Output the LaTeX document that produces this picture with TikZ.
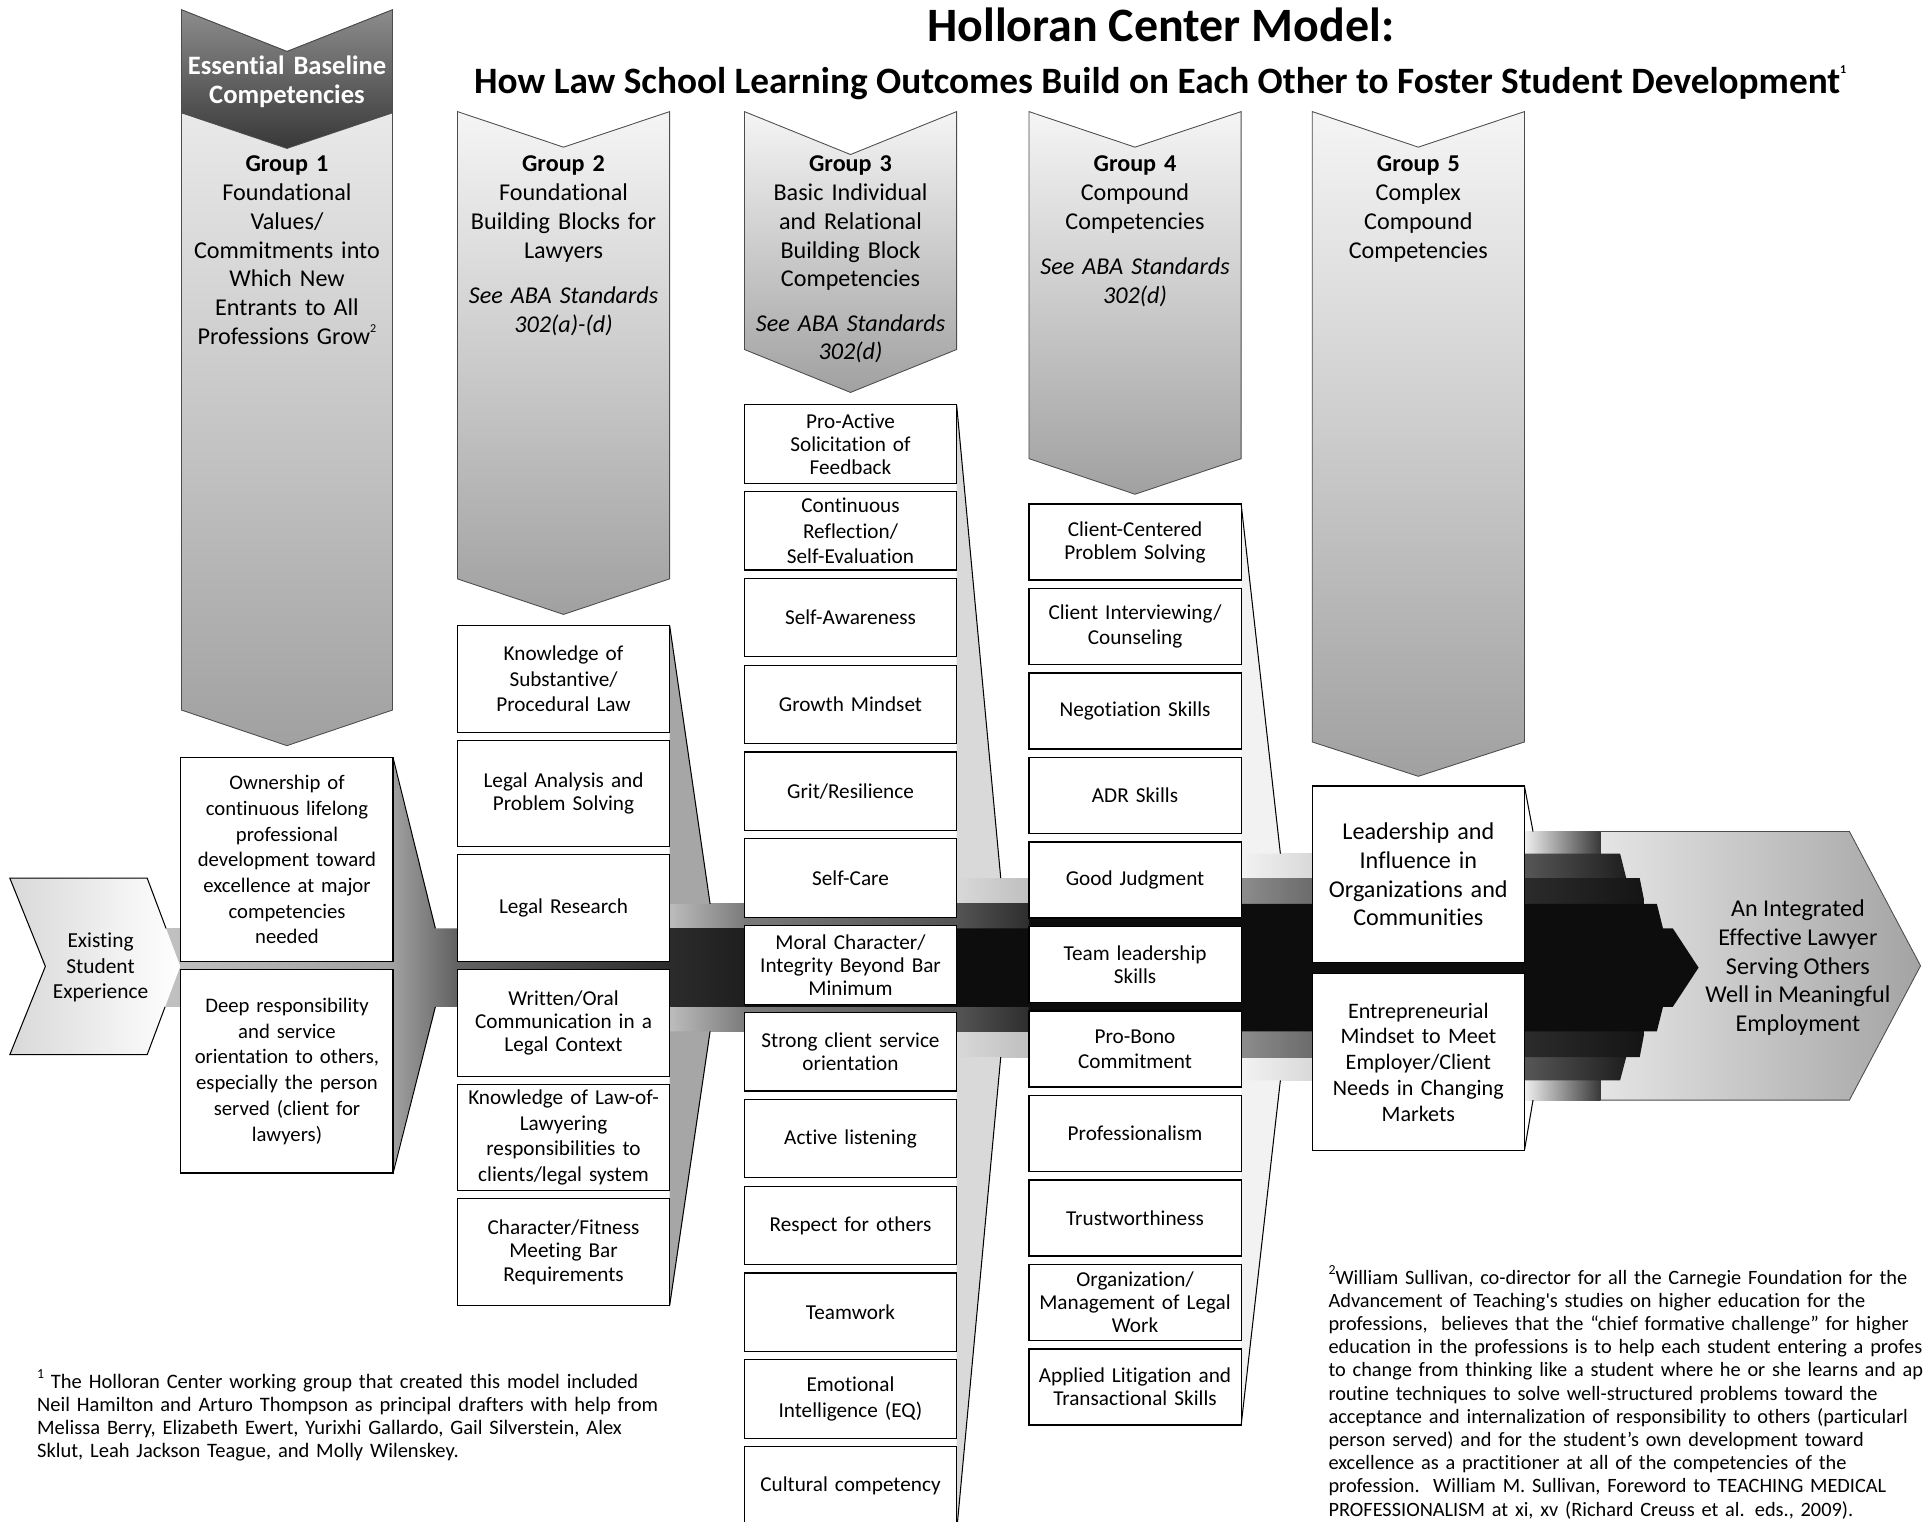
\documentclass[tikz,border=0pt]{standalone}
\usepackage{fontspec}
\setmainfont{Carlito}[Ligatures=NoCommon]
\usetikzlibrary{positioning}

\begin{document}
\begin{tikzpicture}[x=0.025cm,y=-0.025cm,
    box/.style={draw,fill=white,line width=0.7pt,minimum width=4.325cm,text width=4.1cm,align=center,inner sep=0pt,outer sep=0pt},
    boxone/.style={box,minimum height=4.15cm,font=\fontsize{12}{14.9}\selectfont},
    boxtwo/.style={box,minimum height=2.175cm,font=\fontsize{12.3}{13.5}\selectfont},
    boxthree/.style={box,minimum height=1.6cm,font=\fontsize{12.3}{13.3}\selectfont},
    boxfour/.style={box,minimum height=1.55cm,font=\fontsize{12.3}{13.3}\selectfont},
    boxfive/.style={box,minimum height=3.6cm,font=\fontsize{14}{16.6}\selectfont},
    chev/.style={draw=black!70,line width=0.5pt,top color=black!4,bottom color=black!37},
    head/.style={anchor=base,text width=4.3cm,align=center,inner sep=0pt,font=\fontsize{14}{16.7}\selectfont},
    note/.style={anchor=base west,text width=13.5cm,align=left,inner sep=0pt,font=\fontsize{11.9}{13.45}\selectfont},
    funnel/.style={draw=black,line width=0.6pt}
]
    \useasboundingbox (0,0) rectangle (1568,1241);
    \clip (0,0) rectangle (1568,1241);

    \shade[left color=black!5,right color=black!36,draw=black!70,line width=0.5pt] (1250,678) -- (1508,678) -- (1566,787.5) -- (1508,897) -- (1250,897) -- cycle;

    \shade[left color=black!6,middle color=black!30,right color=black!78] (1243,678) rectangle (1305,897);
    \shade[left color=black!5,right color=black!15] (1012,696) rectangle (1070,881);
    \shade[left color=black!66,right color=black!88] (1243,696) -- (1321,696) -- (1326,716) -- (1326,862) -- (1321,881) -- (1243,881) -- cycle;
    \shade[left color=black!15,right color=black!25] (780,716) rectangle (839,862);
    \shade[left color=black!45,right color=black!58] (1012,716) rectangle (1070,862);
    \shade[left color=black!83,right color=black!92] (1243,716) -- (1337,716) -- (1341,736) -- (1341,841) -- (1337,862) -- (1243,862) -- cycle;
    \shade[left color=black!26,right color=black!52] (546,737) rectangle (607,841);
    \shade[left color=black!52,right color=black!67] (607,737) rectangle (780,841);
    \shade[left color=black!67,right color=black!82] (780,737) rectangle (839,841);
    \fill[black!95] (839,737) -- (1351,737) -- (1356,757) -- (1356,821) -- (1351,841) -- (839,841) -- cycle;
    \shade[left color=black!23,right color=black!37] (116,757) rectangle (320,821);
    \shade[left color=black!37,right color=black!62] (320,618) -- (355,757) -- (373,757) -- (373,821) -- (355,821) -- (320,956) -- cycle;
    \shade[left color=black!61,right color=black!83] (373,757) rectangle (546,821);
    \shade[left color=black!83,right color=black!88] (546,757) rectangle (607,821);
    \fill[black!95] (607,757) -- (1364,757) -- (1385,789) -- (1364,821) -- (607,821) -- cycle;

    \fill[black!35] (546,510) -- (579,737) -- (546,737) -- cycle;
    \fill[black!35] (546,1066) -- (579,841) -- (546,841) -- cycle;
    \fill[black!15] (780,330) -- (816,716) -- (780,716) -- cycle;
    \fill[black!15] (780,1249) -- (816,862) -- (780,862) -- cycle;
    \fill[black!5] (1012,411) -- (1044,696) -- (1012,696) -- cycle;
    \fill[black!5] (1012,1162) -- (1044,881) -- (1012,881) -- cycle;

    \shade[left color=black!15,right color=white] (8,716) -- (120,716) -- (147,788) -- (120,860) -- (8,860) -- (37,788) -- cycle;
    \draw[line width=0.6pt] (135.4,757) -- (120,716) -- (8,716) -- (37,788) -- (8,860) -- (120,860) -- (134.6,821);

    \draw[chev] (148,8) -- (234,42) -- (320,8) -- (320,579) -- (234,608) -- (148,579) -- cycle;
    \draw[chev,top color=black!45,bottom color=black!78] (148,8) -- (234,42) -- (320,8) -- (320,92) -- (234,121) -- (148,92) -- cycle;
    \draw[chev] (373,91) -- (459.5,120) -- (546,91) -- (546,472) -- (459.5,501) -- (373,472) -- cycle;
    \draw[chev] (607,91) -- (693.5,126) -- (780,91) -- (780,285) -- (693.5,320) -- (607,285) -- cycle;
    \draw[chev] (839,91) -- (925.5,120) -- (1012,91) -- (1012,374) -- (925.5,403) -- (839,374) -- cycle;
    \draw[chev] (1070,91) -- (1156.5,120) -- (1243,91) -- (1243,605) -- (1156.5,633) -- (1070,605) -- cycle;

    \node[anchor=base,font=\fontsize{27.8}{33}\selectfont\bfseries] (title) at (946.5,34) {Holloran Center Model:};
    \node[anchor=base,font=\fontsize{21.6}{26}\selectfont\bfseries] (subtitle) at (946,76) {How Law School Learning Outcomes Build on Each Other to Foster Student Development\raisebox{1.1ex}{\fontsize{7}{8}\selectfont 1}};

    \node[head,text=white,font=\fontsize{15.4}{16.4}\selectfont\bfseries] (essential) at (234,61) {Essential Baseline\\Competencies};
    \node[head] (g1) at (234,140) {\textbf{Group 1}\\Foundational\\Values/\\Commitments into\\Which New\\Entrants to All\\Professions Grow\raisebox{1ex}{\fontsize{7}{8}\selectfont 2}};
    \node[head] (g2) at (459.5,140) {\textbf{Group 2}\\Foundational\\Building Blocks for\\Lawyers\\[9.6pt]\textit{See ABA Standards}\\\textit{302(a)-(d)}};
    \node[head] (g3) at (693.5,140) {\textbf{Group 3}\\Basic Individual\\and Relational\\Building Block\\Competencies\\[8.9pt]\textit{See ABA Standards}\\\textit{302(d)}};
    \node[head] (g4) at (925.5,140) {\textbf{Group 4}\\Compound\\Competencies\\[9.6pt]\textit{See ABA Standards}\\\textit{302(d)}};
    \node[head] (g5) at (1156.5,140) {\textbf{Group 5}\\Complex\\Compound\\Competencies};

    \node[align=center,font=\fontsize{12.4}{14.9}\selectfont] (exist) at (82,789) {Existing\\Student\\Experience};
    \node[align=center,font=\fontsize{14}{16.6}\selectfont] (goal) at (1466,789) {An Integrated\\Effective Lawyer\\Serving Others\\Well in Meaningful\\Employment};

    \node[boxone] (a1) at (234,701) {Ownership of\\continuous lifelong\\professional\\development toward\\excellence at major\\competencies\\needed};
    \node[boxone] (a2) at (234,873.5) {Deep responsibility\\and service\\orientation to others,\\especially the person\\served (client for\\lawyers)};

    \node[boxtwo] (b1) at (459.5,553.5) {Knowledge of\\[1.5pt]Substantive/\\[1.5pt]Procedural Law};
    \node[boxtwo] (b2) at (459.5,647) {Legal Analysis and\\Problem Solving};
    \node[boxtwo] (b3) at (459.5,740.5) {Legal Research};
    \node[boxtwo] (b4) at (459.5,834) {Written/Oral\\Communication in a\\Legal Context};
    \node[boxtwo] (b5) at (459.5,927.5) {Knowledge of Law-of-\\[1.5pt]Lawyering\\[1.5pt]responsibilities to\\[1.5pt]clients/legal system};
    \node[boxtwo] (b6) at (459.5,1021) {Character/Fitness\\Meeting Bar\\Requirements};

    \node[boxthree] (c1) at (693.5,362) {Pro-Active\\Solicitation of\\Feedback};
    \node[boxthree] (c2) at (693.5,432.8) {Continuous\\[1.5pt]Reflection/\\[1.5pt]Self-Evaluation};
    \node[boxthree] (c3) at (693.5,503.6) {Self-Awareness};
    \node[boxthree] (c4) at (693.5,574.4) {Growth Mindset};
    \node[boxthree] (c5) at (693.5,645.2) {Grit/Resilience};
    \node[boxthree] (c6) at (693.5,716) {Self-Care};
    \node[boxthree] (c7) at (693.5,786.8) {Moral Character/\\Integrity Beyond Bar\\Minimum};
    \node[boxthree] (c8) at (693.5,857.6) {Strong client service\\orientation};
    \node[boxthree] (c9) at (693.5,928.4) {Active listening};
    \node[boxthree] (c10) at (693.5,999.2) {Respect for others};
    \node[boxthree] (c11) at (693.5,1070) {Teamwork};
    \node[boxthree] (c12) at (693.5,1140.8) {Emotional\\[1.5pt]Intelligence (EQ)};
    \node[boxthree] (c13) at (693.5,1211.6) {Cultural competency};

    \node[boxfour] (d1) at (925.5,442) {Client-Centered\\Problem Solving};
    \node[boxfour] (d2) at (925.5,510.9) {Client Interviewing/\\[1pt]Counseling};
    \node[boxfour] (d3) at (925.5,579.8) {Negotiation Skills};
    \node[boxfour] (d4) at (925.5,648.7) {ADR Skills};
    \node[boxfour] (d5) at (925.5,717.6) {Good Judgment};
    \node[boxfour] (d6) at (925.5,786.5) {Team leadership\\Skills};
    \node[boxfour] (d7) at (925.5,855.4) {Pro-Bono\\[1.5pt]Commitment};
    \node[boxfour] (d8) at (925.5,924.3) {Professionalism};
    \node[boxfour] (d9) at (925.5,993.2) {Trustworthiness};
    \node[boxfour] (d10) at (925.5,1062.1) {Organization/\\Management of Legal\\Work};
    \node[boxfour] (d11) at (925.5,1131) {Applied Litigation and\\Transactional Skills};

    \node[boxfive] (e1) at (1156.5,713) {Leadership and\\Influence in\\Organizations and\\Communities};
    \node[boxfive,font=\fontsize{12.8}{14.9}\selectfont] (e2) at (1156.5,866) {Entrepreneurial\\Mindset to Meet\\Employer/Client\\Needs in Changing\\Markets};

    \draw[funnel] (a1.north east) -- (355,757);
    \draw[funnel] (a2.south east) -- (355,821);
    \draw[funnel] (b1.north east) -- (579,737);
    \draw[funnel] (b6.south east) -- (579,841);
    \draw[funnel] (c1.north east) -- (816,716);
    \draw[funnel] (780,1249) -- (816,862);
    \draw[funnel] (d1.north east) -- (1044,696);
    \draw[funnel] (d11.south east) -- (1044,881);
    \draw[funnel] (e1.north east) -- (1250,678);
    \draw[funnel] (e2.south east) -- (1250,897);

    \node[note] (fn1) at (30,1132) {\raisebox{1ex}{\fontsize{8}{9}\selectfont 1} The Holloran Center working group that created this model included\\Neil Hamilton and Arturo Thompson as principal drafters with help from\\Melissa Berry, Elizabeth Ewert, Yurixhi Gallardo, Gail Silverstein, Alex\\Sklut, Leah Jackson Teague, and Molly Wilenskey.};
    \node[note,font=\fontsize{11.8}{13.45}\selectfont] (fn2) at (1083,1047) {\raisebox{1ex}{\fontsize{8}{9}\selectfont 2}William Sullivan, co-director for all the Carnegie Foundation for the\\Advancement of Teaching\textquotesingle s studies on higher education for the\\professions,\ \ believes that the “chief formative challenge” for higher\\education in the professions is to help each student entering a profes\\to change from thinking like a student where he or she learns and ap\\routine techniques to solve well-structured problems toward the\\acceptance and internalization of responsibility to others (particularl\\person served) and for the student’s own development toward\\excellence as a practitioner at all of the competencies of the\\profession.\ \ William M. Sullivan, Foreword to TEACHING MEDICAL\\PROFESSIONALISM at xi, xv (Richard Creuss et al. eds., 2009).};
\end{tikzpicture}
\end{document}
